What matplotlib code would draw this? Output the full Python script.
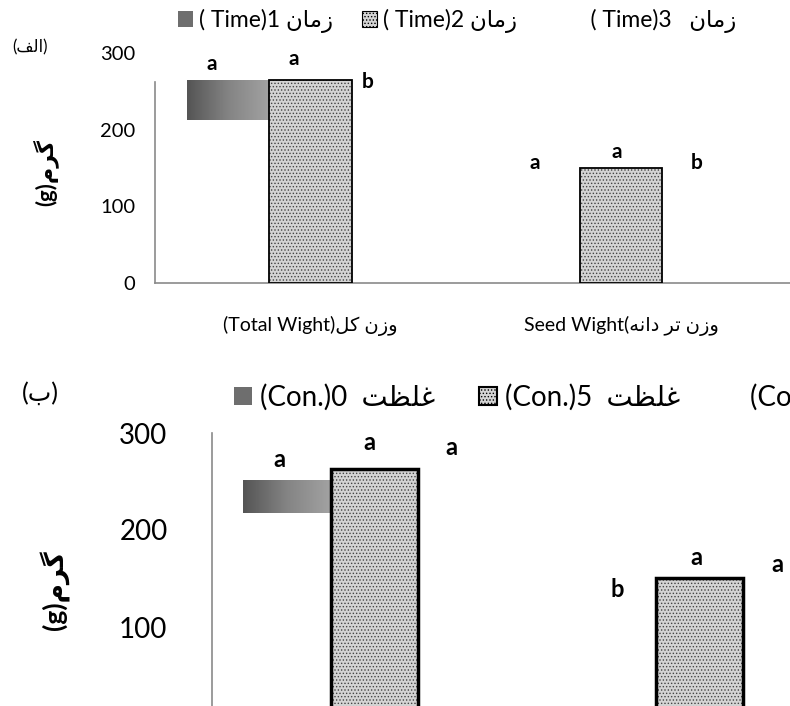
import numpy as np
import matplotlib
matplotlib.use('Agg')
import matplotlib.pyplot as plt
from matplotlib.patches import Patch
from matplotlib.colors import LinearSegmentedColormap

plt.rcParams['font.family'] = ['Lato', 'DejaVu Sans']
plt.rcParams['hatch.linewidth'] = 0.6

# ---- data ----
groups = [0, 1]
# panel (alef): time treatments
time1 = [265, 140]
time1_low = [213, 140]      # only the upper part of the bar is visible
time2 = [265, 150]
time3 = [246, 140]          # not drawn (white)
time_letters = [['a', 'a'], ['a', 'a'], ['b', 'b']]

# panel (be): concentration treatments
con0 = [252, 118]
con0_low = [218, 118]
con5 = [263, 151]
con10 = [265, 144]          # not drawn (white)
con_letters = [['a', 'b'], ['a', 'a'], ['a', 'a']]

yticks = [0, 100, 200, 300]

# ---- crude persian shaping (presentation forms, visual order) ----
FORMS = {
    '\u0627': ('\uFE8D', '\uFE8E', None, None),
    '\u0628': ('\uFE8F', '\uFE90', '\uFE91', '\uFE92'),
    '\u062A': ('\uFE95', '\uFE96', '\uFE97', '\uFE98'),
    '\u062F': ('\uFEA9', '\uFEAA', None, None),
    '\u0631': ('\uFEAD', '\uFEAE', None, None),
    '\u0632': ('\uFEAF', '\uFEB0', None, None),
    '\u0638': ('\uFEC5', '\uFEC6', '\uFEC7', '\uFEC8'),
    '\u063A': ('\uFECD', '\uFECE', '\uFECF', '\uFED0'),
    '\u0641': ('\uFED1', '\uFED2', '\uFED3', '\uFED4'),
    '\u0644': ('\uFEDD', '\uFEDE', '\uFEDF', '\uFEE0'),
    '\u0645': ('\uFEE1', '\uFEE2', '\uFEE3', '\uFEE4'),
    '\u0646': ('\uFEE5', '\uFEE6', '\uFEE7', '\uFEE8'),
    '\u0647': ('\uFEE9', '\uFEEA', '\uFEEB', '\uFEEC'),
    '\u0648': ('\uFEED', '\uFEEE', None, None),
    '\u06A9': ('\uFB8E', '\uFB8F', '\uFB90', '\uFB91'),
    '\u06AF': ('\uFB92', '\uFB93', '\uFB94', '\uFB95'),
}


def fa(s):
    out = []
    for i, ch in enumerate(s):
        if ch not in FORMS:
            out.append(ch)
            continue
        prev = s[i - 1] if i > 0 else ''
        nxt = s[i + 1] if i + 1 < len(s) else ''
        jp = prev in FORMS and FORMS[prev][2] is not None
        jn = nxt in FORMS and FORMS[ch][2] is not None
        iso, fin, ini, med = FORMS[ch]
        if jp and jn:
            out.append(med)
        elif jp:
            out.append(fin)
        elif jn:
            out.append(ini)
        else:
            out.append(iso)
    return ''.join(reversed(out))


zaman = fa('\u0632\u0645\u0627\u0646')
ghelzat = fa('\u063A\u0644\u0638\u062A')
time_labels = ['( Time)1 ' + zaman, '( Time)2 ' + zaman, '    ( Time)3   ' + zaman]
con_labels = ['(Con.)0  ' + ghelzat, '(Con.)5  ' + ghelzat, '(Con.)10  ' + ghelzat]
cat_labels = ['(Total Wight)' + fa('\u0648\u0632\u0646 \u06A9\u0644'),
              'Seed Wight(' + fa('\u0648\u0632\u0646 \u062A\u0631 \u062F\u0627\u0646\u0647')]
ylab = '(g)' + fa('\u06AF\u0631\u0645')

grad_cmap = LinearSegmentedColormap.from_list('g', ['#555555', '#848484', '#a2a2a2'])


def draw_panel(ax, s1, s1_low, s2, s3, letters, w, fs_tick, fs_let, let_off, nudges,
               pad_y, edge_lw):
    x = np.array(groups, dtype=float)
    b1 = ax.bar(x - w, np.array(s1) - np.array(s1_low), bottom=s1_low, width=w,
                color='none', linewidth=0)
    for r in b1:
        if r.get_height() <= 0:
            continue
        grad = np.linspace(0, 1, 60).reshape(1, -1)
        im = ax.imshow(grad, cmap=grad_cmap, aspect='auto', zorder=2,
                       extent=[r.get_x(), r.get_x() + r.get_width(),
                               r.get_y(), r.get_y() + r.get_height()])
        im.set_clip_path(r)
    ax.bar(x, s2, width=w, color='#d4d4d4', edgecolor='#444444', hatch='.....',
           linewidth=0, zorder=3)
    ax.bar(x, s2, width=w, fill=False, edgecolor='black', linewidth=edge_lw, zorder=4)
    ax.bar(x + w, s3, width=w, color='white', linewidth=0, zorder=1)

    for k, (vals, off) in enumerate(zip([s1, s2, s3], [-w, 0, w])):
        for g in range(len(groups)):
            ax.annotate(letters[k][g], (x[g] + off, vals[g]),
                        xytext=(nudges[g][k][0], let_off + nudges[g][k][1]),
                        textcoords='offset points', ha='center', va='bottom',
                        fontsize=fs_let, fontweight='bold', zorder=5)

    ax.set_ylim(0, 300)
    ax.set_yticks(yticks)
    ax.tick_params(axis='both', length=0, labelsize=fs_tick)
    ax.tick_params(axis='y', pad=pad_y)
    for s in ['top', 'right']:
        ax.spines[s].set_visible(False)
    ax.spines['left'].set_color('#8a8a8a')
    ax.spines['bottom'].set_color('#8a8a8a')
    ax.spines['left'].set_linewidth(1.2)
    ax.spines['bottom'].set_linewidth(1.2)
    ax.set_xticks(groups)
    ax.set_xticklabels(cat_labels)
    ax.set_facecolor('none')


fig = plt.figure(figsize=(7.9, 7.06), dpi=100)

# ---- panel alef ----
ax1 = fig.add_axes([155 / 790, 423 / 706, 640 / 790, 230 / 706])
draw_panel(ax1, time1, time1_low, time2, time3, time_letters, 0.265,
           14.5, 15, 2,
           [[(-12, 2), (-12, 6), (-18, 0)], [(-3, 0), (-3, 2), (-5, 0)]], 14, 1.3)
ax1.set_xlim(-0.5, 1.56)
ax1.spines['left'].set_bounds(0, 262)
ax1.tick_params(axis='x', pad=24, labelsize=14)
fig.text(45 / 790, 1 - 172 / 706, ylab, rotation=90, ha='center', va='center',
         fontsize=16, fontweight='bold')
fig.text(30 / 790, 1 - 47 / 706, '(' + fa('\u0627\u0644\u0641') + ')', ha='center', va='center',
         fontsize=12)

h1 = [Patch(facecolor='#6e6e6e', edgecolor='none'),
      Patch(facecolor='#d4d4d4', edgecolor='black', hatch='.....', linewidth=0.8),
      Patch(facecolor='white', edgecolor='none')]
fig.legend(h1, time_labels, loc='upper left', bbox_to_anchor=(178 / 790, 1 - 9 / 706),
           ncol=3, frameon=False, fontsize=16.5, handlelength=0.65, handleheight=0.65,
           handletextpad=0.25, columnspacing=1.3, borderaxespad=0, borderpad=0)

# ---- panel be ----
ax2 = fig.add_axes([212 / 790, -18 / 706, 650 / 790, 291 / 706])
draw_panel(ax2, con0, con0_low, con5, con10, con_letters, 0.27,
           20, 17, 6,
           [[(-5, 0), (-4, 5), (-8, 0)], [(4, 0), (-2, 0), (-7, 0)]], 32, 2.5)
ax2.set_xlim(-0.5, 1.5)
ax2.set_xticklabels([])
fig.text(55 / 790, 1 - 590 / 706, ylab, rotation=90, ha='center', va='center',
         fontsize=19, fontweight='bold')
fig.text(40 / 790, 1 - 393 / 706, '(' + fa('\u0628') + ')', ha='center', va='center', fontsize=18)

h2 = [Patch(facecolor='#6e6e6e', edgecolor='none'),
      Patch(facecolor='#d4d4d4', edgecolor='black', hatch='.....', linewidth=1.5),
      Patch(facecolor='white', edgecolor='none')]
fig.legend(h2, con_labels, loc='upper left', bbox_to_anchor=(234 / 790, 1 - 384 / 706),
           ncol=3, frameon=False, fontsize=20, handlelength=0.65, handleheight=0.65,
           handletextpad=0.3, columnspacing=1.55, borderaxespad=0, borderpad=0)

fig.savefig('out.png', dpi=100)
